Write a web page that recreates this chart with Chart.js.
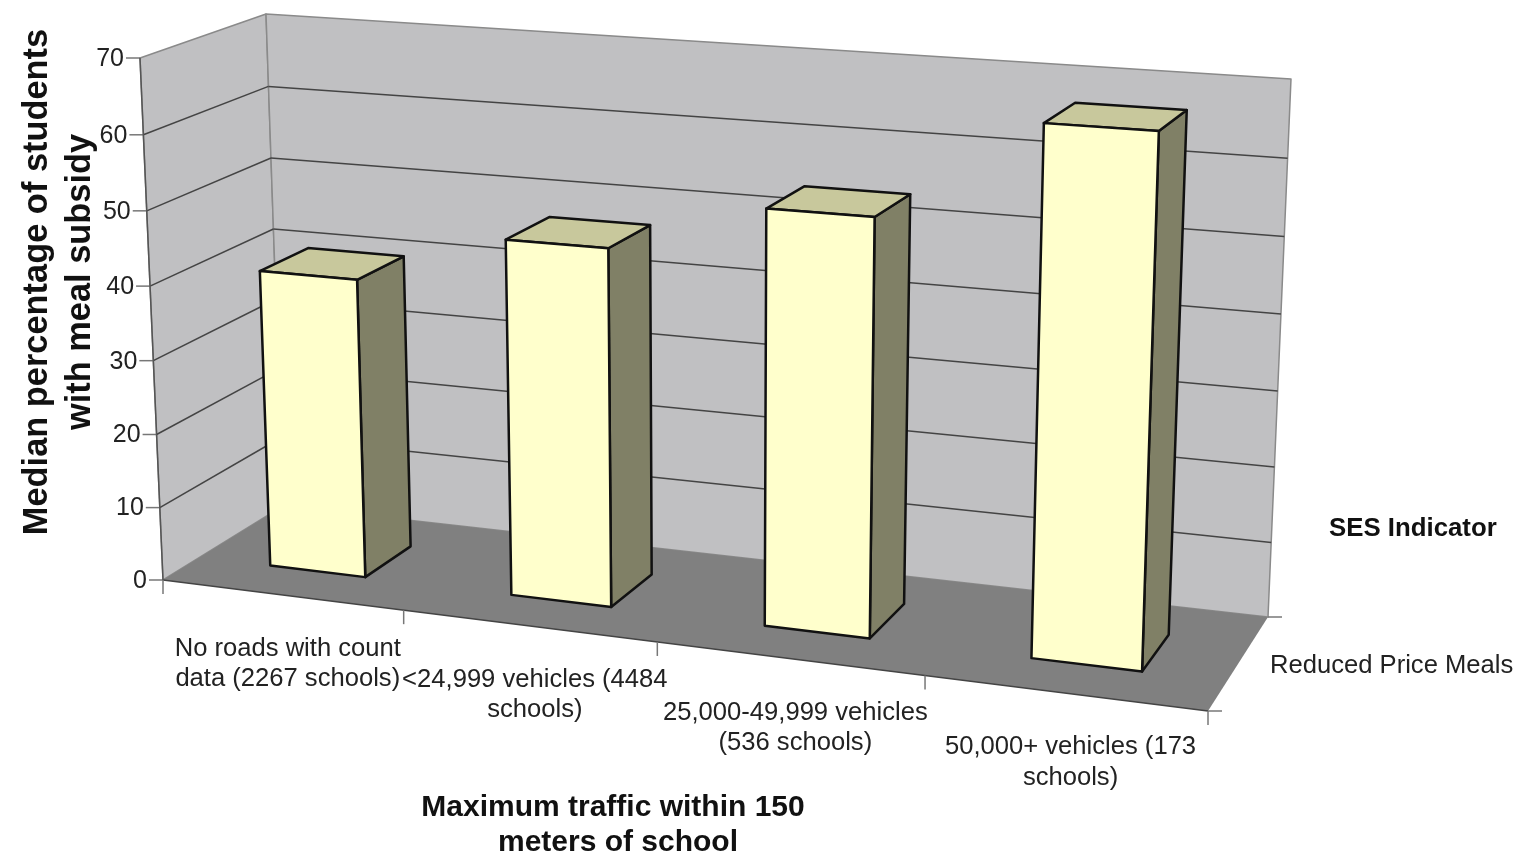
<!DOCTYPE html>
<html>
<head>
<meta charset="utf-8">
<title>Median percentage of students with meal subsidy</title>
<script src="https://cdn.jsdelivr.net/npm/chart.js@4/dist/chart.umd.min.js"></script>
<style>
  html, body { margin: 0; padding: 0; background: #fff; }
  #wrap { width: 1515px; height: 854px; }
  #chart { filter: blur(0.5px); }
</style>
</head>
<body>
<div id="wrap"><canvas id="chart" width="1515" height="854"></canvas></div>
<script>
// ---- Data ----
const categories = [
  ['No roads with count', 'data (2267 schools)'],
  ['<24,999 vehicles (4484', 'schools)'],
  ['25,000-49,999 vehicles', '(536 schools)'],
  ['50,000+ vehicles (173', 'schools)'],
];
const seriesName = 'Reduced Price Meals';
const reducedPriceMeals = [40.5, 47.5, 54.2, 67.3];
const yTicks = [0, 10, 20, 30, 40, 50, 60, 70];
const yTitle = ['Median percentage of students', 'with meal subsidy'];
const xTitle = ['Maximum traffic within 150', 'meters of school'];
const zTitle = 'SES Indicator';

// ---- 3D box of the plot: corners of the front and back planes on the page ----
const FRONT = { bl: [163, 580], tl: [140, 58], br: [1208, 711], tr: [1228, 130], k: 1.114 };
const BACK = { bl: [283, 506], tl: [266, 14], br: [1268, 617], tr: [1291, 79], k: 1.09 };
const V_K = 1.035;
const BAR_D0 = 0.31;
const BAR_D1 = 0.71;

const lerp = (a, b, t) => [a[0] + (b[0] - a[0]) * t, a[1] + (b[1] - a[1]) * t];

function planePoint(p, u, v) {
  const a = u / (u + (1 - u) * p.k);  // foreshortening along the x axis
  const h = v / (v + (1 - v) * V_K);  // and a little along y
  return lerp(lerp(p.bl, p.br, a), lerp(p.tl, p.tr, a), h);
}

function project(u, v, d) {
  return lerp(planePoint(FRONT, u, v), planePoint(BACK, u, v), d);
}

function poly(ctx, pts, fill, stroke, lw) {
  ctx.beginPath();
  pts.forEach((p, i) => (i ? ctx.lineTo(p[0], p[1]) : ctx.moveTo(p[0], p[1])));
  ctx.closePath();
  if (fill) { ctx.fillStyle = fill; ctx.fill(); }
  if (stroke) { ctx.strokeStyle = stroke; ctx.lineWidth = lw; ctx.lineJoin = 'round'; ctx.stroke(); }
}

function line(ctx, a, b, color, lw) {
  ctx.beginPath();
  ctx.moveTo(a[0], a[1]);
  ctx.lineTo(b[0], b[1]);
  ctx.strokeStyle = color;
  ctx.lineWidth = lw;
  ctx.stroke();
}

const box3d = {
  id: 'box3d',
  beforeDatasetsDraw(chart) {
    const { ctx, chartArea: ca, scales } = chart;
    const toU = (px) => (px - ca.left) / (ca.right - ca.left);
    const toV = (py) => (ca.bottom - py) / (ca.bottom - ca.top);

    ctx.save();

    // ---- Walls and floor ----
    poly(ctx, [project(0, 0, 0), project(0, 1, 0), project(0, 1, 1), project(0, 0, 1)], '#c0c0c2', '#8a8a8a', 1.5);
    poly(ctx, [project(0, 0, 1), project(0, 1, 1), project(1, 1, 1), project(1, 0, 1)], '#c0c0c2', '#8a8a8a', 1.5);
    poly(ctx, [project(0, 0, 0), project(1, 0, 0), project(1, 0, 1), project(0, 0, 1)], '#808080', null);
    line(ctx, project(0, 0, 0), project(1, 0, 0), '#444', 1.5);

    // ---- Gridlines + y ticks ----
    ctx.font = '25px "Liberation Sans", Arial, sans-serif';
    ctx.fillStyle = '#222';
    ctx.textAlign = 'right';
    ctx.textBaseline = 'middle';
    scales.y.ticks.forEach((t) => {
      const v = toV(scales.y.getPixelForValue(t.value));
      const a = project(0, v, 0);
      const b = project(0, v, 1);
      const c = project(1, v, 1);
      if (t.value > 0 && t.value < 70) {
        line(ctx, a, b, '#444', 1.5);
        line(ctx, b, c, '#444', 1.5);
      }
      line(ctx, [a[0] - 14, a[1]], a, '#777', 1.5);
      ctx.fillStyle = '#222';
      ctx.fillText(String(t.value), a[0] - 16, a[1] + 1);
    });
    line(ctx, project(0, 0, 0), project(0, 1, 0), '#555', 1.5);

    // ---- x ticks and category labels ----
    const xs = scales.x;
    const band = (xs.getPixelForValue(1) - xs.getPixelForValue(0));
    for (let i = 0; i <= categories.length; i++) {
      const u = toU(xs.getPixelForValue(i) - band / 2);
      const p = project(u, 0, 0);
      line(ctx, p, [p[0], p[1] + 14], '#777', 1.5);
    }
    ctx.font = '25.6px "Liberation Sans", Arial, sans-serif';
    ctx.textAlign = 'center';
    categories.forEach((lines, i) => {
      const p = project(toU(xs.getPixelForValue(i)), 0, 0);
      lines.forEach((s, j) => ctx.fillText(s, p[0] + 6, p[1] + 54 + j * 30.5));
    });

    // ---- Depth axis ----
    const zf = project(1, 0, 0);
    const zb = project(1, 0, 1);
    line(ctx, zf, [zf[0] + 14, zf[1]], '#777', 1.5);
    line(ctx, zb, [zb[0] + 14, zb[1]], '#777', 1.5);
    ctx.textAlign = 'left';
    ctx.fillText(seriesName, 1270, 666);

    // ---- Bars, from the library's own bar layout ----
    chart.getDatasetMeta(0).data.forEach((bar) => {
      const u0 = toU(bar.x - bar.width / 2);
      const u1 = toU(bar.x + bar.width / 2);
      const v0 = toV(bar.base);
      const v1 = toV(bar.y);
      const p = (u, v, d) => project(u, v, d);
      poly(ctx, [p(u1, v0, BAR_D0), p(u1, v1, BAR_D0), p(u1, v1, BAR_D1), p(u1, v0, BAR_D1)], '#808066', '#111', 2.5);
      poly(ctx, [p(u0, v1, BAR_D0), p(u1, v1, BAR_D0), p(u1, v1, BAR_D1), p(u0, v1, BAR_D1)], '#c8c89c', '#111', 2.5);
      poly(ctx, [p(u0, v0, BAR_D0), p(u1, v0, BAR_D0), p(u1, v1, BAR_D0), p(u0, v1, BAR_D0)], '#ffffcc', '#111', 2.5);
    });

    // ---- Titles ----
    ctx.fillStyle = '#111';
    ctx.font = 'bold 30px "Liberation Sans", Arial, sans-serif';
    ctx.textAlign = 'center';
    xTitle.forEach((s, j) => ctx.fillText(s, 613 + j * 5, 808 + j * 35));
    ctx.textAlign = 'left';
    ctx.font = 'bold 25.8px "Liberation Sans", Arial, sans-serif';
    ctx.fillText(zTitle, 1329, 529);
    ctx.font = 'bold 34.4px "Liberation Sans", Arial, sans-serif';
    ctx.textAlign = 'center';
    ctx.translate(0, 282);
    ctx.rotate(-Math.PI / 2);
    yTitle.forEach((s, j) => ctx.fillText(s, 0, 38 + j * 43));

    ctx.restore();
    return false;
  },
};

new Chart(document.getElementById('chart'), {
  type: 'bar',
  data: {
    labels: categories,
    datasets: [{
      label: seriesName,
      data: reducedPriceMeals,
      backgroundColor: '#ffffcc',
      categoryPercentage: 1,
      barPercentage: 0.4,
    }],
  },
  options: {
    responsive: false,
    animation: false,
    layout: { padding: 0 },
    plugins: { legend: { display: false }, tooltip: { enabled: false } },
    scales: {
      x: { display: false },
      y: { display: false, min: 0, max: 70, afterBuildTicks: (s) => { s.ticks = yTicks.map((value) => ({ value })); } },
    },
  },
  plugins: [box3d],
});
</script>
</body>
</html>
